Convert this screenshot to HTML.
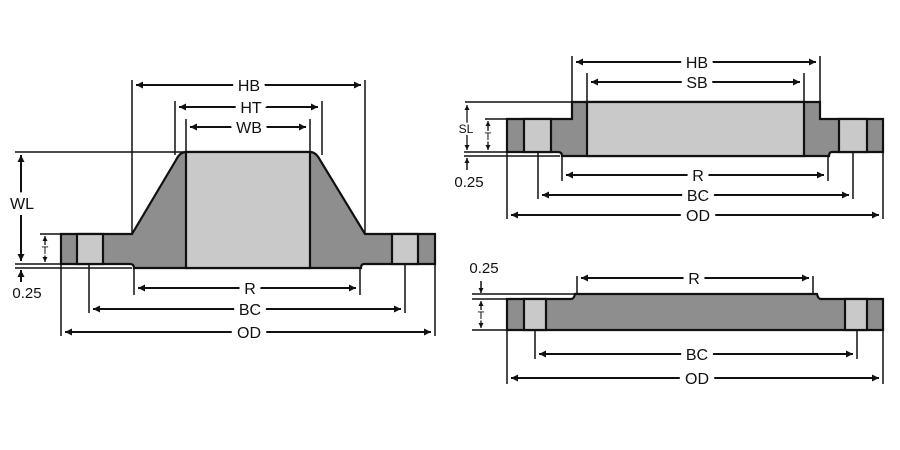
<!DOCTYPE html>
<html><head><meta charset="utf-8"><style>
html,body{margin:0;padding:0;background:#fff;}
svg{display:block;}
text{font-family:"Liberation Sans",Arial,sans-serif;fill:#111;stroke:#fff;stroke-width:12px;paint-order:stroke;stroke-linejoin:round;}
</style></head><body>
<svg width="900" height="450" viewBox="0 0 900 450" xmlns="http://www.w3.org/2000/svg">
<defs>
<marker id="a" viewBox="0 0 10 10" refX="10" refY="5" markerWidth="13" markerHeight="7" orient="auto-start-reverse" markerUnits="userSpaceOnUse"><path d="M0,0 L10,5 L0,10 z" fill="#111"/></marker>
<marker id="s" viewBox="0 0 10 10" refX="10" refY="5" markerWidth="6" markerHeight="5" orient="auto-start-reverse" markerUnits="userSpaceOnUse"><path d="M0,0 L10,5 L0,10 z" fill="#111"/></marker>
</defs>
<g stroke="#111" stroke-width="2" fill="none">

<path d="M61,234 H132 L176,160 Q180,152 186,152 H310 Q316,152 320,160 L365,234 H435 V264 H364 Q361,264 361,268 H134 Q134,264 130,264 H61 Z" fill="#8e8e8e" stroke-width="2.2"/>
<rect x="186" y="152" width="124" height="116" fill="#c9c9c9" stroke-width="2.2"/>
<rect x="77" y="234" width="26" height="30" fill="#c9c9c9" stroke-width="2.2"/>
<rect x="392" y="234" width="26" height="30" fill="#c9c9c9" stroke-width="2.2"/>
<line x1="15" y1="152" x2="186" y2="152" stroke-width="1.4"/>
<line x1="15" y1="264" x2="61" y2="264" stroke-width="1.4"/>
<line x1="15" y1="268" x2="132" y2="268" stroke-width="1.4"/>
<line x1="40" y1="234" x2="61" y2="234" stroke-width="1.4"/>
<line x1="132" y1="80" x2="132" y2="234" stroke-width="1.5"/>
<line x1="365" y1="80" x2="365" y2="234" stroke-width="1.5"/>
<line x1="175" y1="101" x2="175" y2="155" stroke-width="1.5"/>
<line x1="322" y1="101" x2="322" y2="155" stroke-width="1.5"/>
<line x1="186" y1="119" x2="186" y2="152" stroke-width="1.5"/>
<line x1="310" y1="119" x2="310" y2="152" stroke-width="1.5"/>
<line x1="134" y1="268" x2="134" y2="295" stroke-width="1.5"/>
<line x1="360" y1="268" x2="360" y2="295" stroke-width="1.5"/>
<line x1="89" y1="264" x2="89" y2="313" stroke-width="1.5"/>
<line x1="405" y1="264" x2="405" y2="313" stroke-width="1.5"/>
<line x1="61" y1="264" x2="61" y2="336" stroke-width="1.5"/>
<line x1="435" y1="264" x2="435" y2="336" stroke-width="1.5"/>

<line x1="136" y1="85" x2="361" y2="85" marker-start="url(#a)" marker-end="url(#a)"/>
<line x1="179" y1="107" x2="318" y2="107" marker-start="url(#a)" marker-end="url(#a)"/>
<line x1="190" y1="127" x2="306" y2="127" marker-start="url(#a)" marker-end="url(#a)"/>
<line x1="21" y1="155" x2="21" y2="261" marker-start="url(#a)" marker-end="url(#a)"/>
<line x1="45" y1="236" x2="45" y2="262" marker-start="url(#s)" marker-end="url(#s)" stroke-width="1.3"/>
<line x1="21" y1="282" x2="21" y2="270" marker-end="url(#a)"/>
<line x1="138" y1="288" x2="356" y2="288" marker-start="url(#a)" marker-end="url(#a)"/>
<line x1="93" y1="309" x2="401" y2="309" marker-start="url(#a)" marker-end="url(#a)"/>
<line x1="65" y1="332" x2="431" y2="332" marker-start="url(#a)" marker-end="url(#a)"/>

<path d="M507,119 H572 V102 H820 V119 H883 V152 H832 Q829,152 829,156 H562 Q562,152 558,152 H507 Z" fill="#8e8e8e" stroke-width="2.2"/>
<rect x="587" y="102" width="217" height="54" fill="#c9c9c9" stroke-width="2.2"/>
<rect x="524" y="119" width="27" height="33" fill="#c9c9c9" stroke-width="2.2"/>
<rect x="839" y="119" width="28" height="33" fill="#c9c9c9" stroke-width="2.2"/>
<line x1="465" y1="102" x2="572" y2="102" stroke-width="1.4"/>
<line x1="485" y1="119" x2="507" y2="119" stroke-width="1.4"/>
<line x1="464" y1="152" x2="507" y2="152" stroke-width="1.4"/>
<line x1="464" y1="156" x2="560" y2="156" stroke-width="1.4"/>
<line x1="572" y1="56" x2="572" y2="102" stroke-width="1.5"/>
<line x1="820" y1="56" x2="820" y2="102" stroke-width="1.5"/>
<line x1="587" y1="73" x2="587" y2="102" stroke-width="1.5"/>
<line x1="804" y1="73" x2="804" y2="102" stroke-width="1.5"/>
<line x1="562" y1="156" x2="562" y2="181" stroke-width="1.5"/>
<line x1="828" y1="156" x2="828" y2="181" stroke-width="1.5"/>
<line x1="538" y1="152" x2="538" y2="199" stroke-width="1.5"/>
<line x1="853" y1="152" x2="853" y2="199" stroke-width="1.5"/>
<line x1="507" y1="152" x2="507" y2="219" stroke-width="1.5"/>
<line x1="883" y1="152" x2="883" y2="219" stroke-width="1.5"/>

<line x1="576" y1="62" x2="816" y2="62" marker-start="url(#a)" marker-end="url(#a)"/>
<line x1="591" y1="82" x2="800" y2="82" marker-start="url(#a)" marker-end="url(#a)"/>
<line x1="467" y1="105" x2="467" y2="150" marker-start="url(#s)" marker-end="url(#s)" stroke-width="1.3"/>
<line x1="488" y1="121" x2="488" y2="150" marker-start="url(#s)" marker-end="url(#s)" stroke-width="1.3"/>
<line x1="467" y1="170" x2="467" y2="158" marker-end="url(#s)" stroke-width="1.5"/>
<line x1="566" y1="175" x2="824" y2="175" marker-start="url(#a)" marker-end="url(#a)"/>
<line x1="542" y1="195" x2="849" y2="195" marker-start="url(#a)" marker-end="url(#a)"/>
<line x1="511" y1="215" x2="879" y2="215" marker-start="url(#a)" marker-end="url(#a)"/>

<path d="M507,299 H571 Q574,299 575,294 H817 Q818,299 821,299 H883 V330 H507 Z" fill="#8e8e8e" stroke-width="2.2"/>
<rect x="524" y="299" width="22" height="31" fill="#c9c9c9" stroke-width="2.2"/>
<rect x="845" y="299" width="22" height="31" fill="#c9c9c9" stroke-width="2.2"/>
<line x1="472" y1="294" x2="575" y2="294" stroke-width="1.4"/>
<line x1="472" y1="299" x2="507" y2="299" stroke-width="1.4"/>
<line x1="472" y1="330" x2="507" y2="330" stroke-width="1.4"/>
<line x1="577" y1="276" x2="577" y2="294" stroke-width="1.5"/>
<line x1="813" y1="276" x2="813" y2="294" stroke-width="1.5"/>
<line x1="535" y1="330" x2="535" y2="359" stroke-width="1.5"/>
<line x1="857" y1="330" x2="857" y2="359" stroke-width="1.5"/>
<line x1="507" y1="330" x2="507" y2="384" stroke-width="1.5"/>
<line x1="883" y1="330" x2="883" y2="384" stroke-width="1.5"/>
<line x1="481" y1="281" x2="481" y2="293" marker-end="url(#s)" stroke-width="1.5"/>
<line x1="481" y1="301" x2="481" y2="328" marker-start="url(#s)" marker-end="url(#s)" stroke-width="1.3"/>
<line x1="581" y1="278" x2="809" y2="278" marker-start="url(#a)" marker-end="url(#a)"/>
<line x1="539" y1="354" x2="853" y2="354" marker-start="url(#a)" marker-end="url(#a)"/>
<line x1="511" y1="378" x2="879" y2="378" marker-start="url(#a)" marker-end="url(#a)"/>
</g>

<g font-size="16" text-anchor="middle">
<text x="249" y="91">HB</text>
<text x="251" y="113">HT</text>
<text x="249" y="133">WB</text>
<text x="22" y="209">WL</text>
<text x="250" y="294">R</text>
<text x="250" y="315">BC</text>
<text x="249" y="338">OD</text>
<text x="27" y="298" font-size="15">0.25</text>
<text x="45" y="254" font-size="11" style="stroke-width:3px">T</text>

<text x="697" y="68">HB</text>
<text x="697" y="88">SB</text>
<text x="698" y="181">R</text>
<text x="698" y="201">BC</text>
<text x="698" y="221">OD</text>
<text x="466" y="133" font-size="12" style="stroke-width:4px">SL</text>
<text x="488" y="140" font-size="11" style="stroke-width:3px">T</text>
<text x="469" y="187" font-size="15">0.25</text>

<text x="694" y="284">R</text>
<text x="697" y="360">BC</text>
<text x="697" y="384">OD</text>
<text x="484" y="273" font-size="15">0.25</text>
<text x="481" y="319" font-size="11" style="stroke-width:3px">T</text>
</g>
</svg>
</body></html>
